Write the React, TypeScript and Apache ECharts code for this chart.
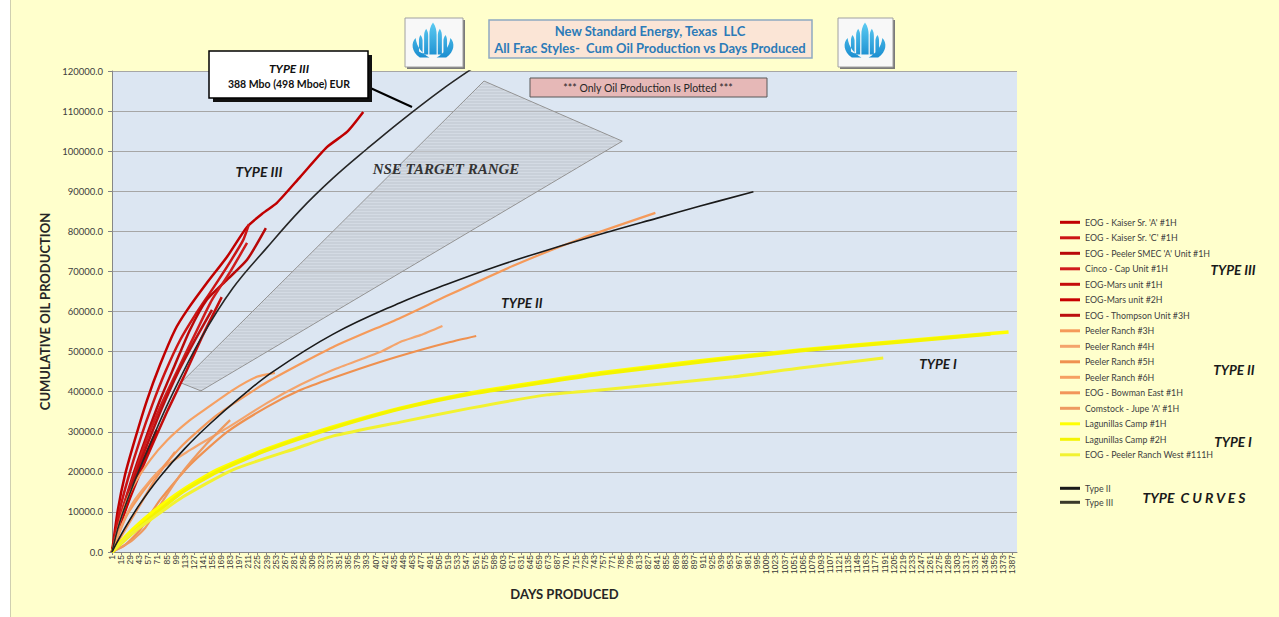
import React, { useEffect, useRef } from "react";
import * as echarts from "echarts";

// ---------- categories / ticks ----------
const DAY_COUNT = 1395;
const DAYS: string[] = Array.from({ length: DAY_COUNT }, (_, i) => String(i + 1));

// ---------- Type III wells (red) ----------
const KAISER_A_DAYS = [1, 10, 21, 36, 55, 75, 98, 117, 147, 178, 209, 234, 255, 291, 332, 363, 388];
const KAISER_A_VALS = [0, 10500, 19200, 27900, 37900, 46700, 55400, 60400, 67100, 73600, 81100, 84600, 87100, 93600, 101000, 104800, 109800];
const KAISER_C_DAYS = [1, 13, 26, 44, 63, 83, 106, 129, 155, 183, 203, 212];
const KAISER_C_VALS = [0, 10500, 18500, 27900, 36700, 44900, 52900, 59100, 65400, 72400, 77800, 81800];
const SMEC_DAYS = [1, 15, 32, 52, 75, 98, 121, 147, 178, 209, 238];
const SMEC_VALS = [0, 9200, 18500, 27900, 37900, 46700, 55400, 62900, 67900, 72900, 80800];
const CINCO_DAYS = [1, 16, 35, 56, 80, 106, 132, 155, 183, 209];
const CINCO_VALS = [0, 10000, 19200, 28700, 37900, 46700, 55400, 62900, 69900, 77100];
const MARS1_DAYS = [1, 19, 40, 63, 87, 113, 141, 170];
const MARS1_VALS = [0, 9200, 18000, 26700, 35400, 44200, 54100, 63600];
const MARS2_DAYS = [1, 13, 29, 44, 60, 70];
const MARS2_VALS = [0, 6700, 14200, 21000, 26700, 30400];
const THOMPSON_DAYS = [1, 15, 33, 55, 78, 103, 129, 155];
const THOMPSON_VALS = [0, 8500, 17500, 26700, 35900, 44900, 52900, 60400];

// ---------- Type II wells (orange) ----------
const PR3_DAYS = [1, 24, 60, 110, 163, 240, 341, 445, 517, 619, 722, 838];
const PR3_VALS = [0, 9200, 17500, 26700, 34200, 42400, 51100, 58400, 63900, 71400, 78100, 84600];
const PR4_DAYS = [1, 16, 36, 75, 121, 178, 240, 291, 341, 414, 445, 476, 510];
const PR4_VALS = [0, 6700, 13000, 20500, 25400, 30900, 37200, 41700, 45400, 49900, 52400, 54100, 56400];
const PR5_DAYS = [1, 21, 44, 75, 121, 178, 240, 291, 341, 414, 476, 522, 562];
const PR5_VALS = [0, 1700, 5500, 13000, 21700, 29900, 36200, 40400, 43400, 47400, 50400, 52400, 53900];
const PR6_DAYS = [1, 16, 33, 60, 86, 121, 147, 187, 224, 252];
const PR6_VALS = [0, 9200, 16200, 23000, 27900, 32900, 35900, 40400, 43700, 44700];
const BOWMAN_DAYS = [1, 21, 44, 67, 98];
const BOWMAN_VALS = [0, 5500, 11700, 18000, 25000];
const COMSTOCK_DAYS = [1, 29, 52, 75, 106, 145, 183];
const COMSTOCK_VALS = [0, 2500, 6000, 11700, 19200, 26700, 32900];

// ---------- Type I wells (yellow) ----------
const LAG1_DAYS = [1, 24, 60, 110, 163, 240, 341, 445, 553, 671, 753, 907, 1061, 1215, 1382];
const LAG1_VALS = [0, 4200, 9500, 15500, 20500, 25700, 31200, 35900, 39700, 42700, 44700, 47700, 50400, 52600, 54900];
const LAG2_DAYS = [1, 24, 60, 110, 163, 240, 341, 445, 553, 671, 753, 907, 1061, 1215, 1354];
const LAG2_VALS = [0, 3500, 8500, 15000, 20000, 25400, 30900, 35700, 39400, 42400, 44400, 47400, 50200, 52400, 54400];
const PRW_DAYS = [1, 24, 60, 110, 187, 291, 341, 445, 553, 671, 753, 958, 1061, 1189];
const PRW_VALS = [0, 3700, 8000, 13700, 20500, 26200, 28900, 32400, 35900, 39200, 40400, 43700, 45900, 48400];

// ---------- Type curves ----------
const TYPE2_DAYS = [1, 21, 44, 75, 113, 152, 198, 249, 341, 445, 517, 594, 671, 773, 841, 907, 989];
const TYPE2_VALS = [0, 6000, 12000, 18800, 25800, 32000, 38500, 45000, 54300, 62200, 66800, 71300, 75300, 80200, 83300, 86300, 89900];
const TYPE3_DAYS = [1, 13, 33, 60, 90, 137, 187, 240, 291, 341, 394, 445, 506, 553, 630];
const TYPE3_VALS = [0, 7500, 16500, 27000, 38000, 53000, 65800, 76000, 85300, 93200, 100600, 107400, 115000, 120300, 128500];

// ---------- NSE target range polygon ----------
const NSE_DAYS = [107, 574, 787, 138];
const NSE_VALS = [42200, 117500, 102500, 40200];

const WELL_NAMES = [
  "EOG - Kaiser Sr. 'A' #1H",
  "EOG - Kaiser Sr. 'C' #1H",
  "EOG - Peeler SMEC 'A' Unit #1H",
  "Cinco - Cap Unit #1H",
  "EOG-Mars unit #1H",
  "EOG-Mars unit #2H",
  "EOG - Thompson Unit #3H",
  "Peeler Ranch #3H",
  "Peeler Ranch #4H",
  "Peeler Ranch #5H",
  "Peeler Ranch #6H",
  "EOG - Bowman East #1H",
  "Comstock - Jupe 'A' #1H",
  "Lagunillas Camp #1H",
  "Lagunillas Camp #2H",
  "EOG - Peeler Ranch West #111H",
];
const TYPE_NAMES = ["Type II", "Type III"];

const pairs = (d: number[], v: number[]) => d.map((day, i) => [day - 1, v[i]]);

const LOGO_D =
  "M20 3 C22.5 7 23 11 23 15 L23 34 L17 34 L17 15 C17 11 17.5 7 20 3 Z " +
  "M14.3 9 C15.8 11.5 16 14 16 16 L16 34 L12.6 34 L12.6 16 C12.6 14 12.8 11.5 14.3 9 Z " +
  "M25.7 9 C27.2 11.5 27.4 14 27.4 16 L27.4 34 L24 34 L24 16 C24 14 24.2 11.5 25.7 9 Z " +
  "M9.6 15 C10.8 17 11.3 19 11.3 20.5 L11.3 33 L8.3 31 L8.3 20.5 C8.3 19 8.5 17 9.6 15 Z " +
  "M30.4 15 C31.5 17 31.7 19 31.7 20.5 L31.7 31 L28.7 33 L28.7 20.5 C28.7 19 29.2 17 30.4 15 Z " +
  "M5.5 18 C1.5 23 2 31 9 37 L17 37 C11 33 6.5 27 5.5 18 Z " +
  "M34.5 18 C38.5 23 38 31 31 37 L23 37 C29 33 33.5 27 34.5 18 Z";

let logoRegistered = false;
function ensureLogo() {
  if (logoRegistered) return;
  echarts.graphic.registerShape("nselogo", echarts.graphic.extendPath(LOGO_D, {}) as any);
  logoRegistered = true;
}

export default function App() {
  const ref = useRef<HTMLDivElement>(null);

  useEffect(() => {
    if (!ref.current) return;
    ensureLogo();
    const chart = echarts.init(ref.current, undefined, { renderer: "svg" });

    const wellData = [
      pairs(KAISER_A_DAYS, KAISER_A_VALS),
      pairs(KAISER_C_DAYS, KAISER_C_VALS),
      pairs(SMEC_DAYS, SMEC_VALS),
      pairs(CINCO_DAYS, CINCO_VALS),
      pairs(MARS1_DAYS, MARS1_VALS),
      pairs(MARS2_DAYS, MARS2_VALS),
      pairs(THOMPSON_DAYS, THOMPSON_VALS),
      pairs(PR3_DAYS, PR3_VALS),
      pairs(PR4_DAYS, PR4_VALS),
      pairs(PR5_DAYS, PR5_VALS),
      pairs(PR6_DAYS, PR6_VALS),
      pairs(BOWMAN_DAYS, BOWMAN_VALS),
      pairs(COMSTOCK_DAYS, COMSTOCK_VALS),
      pairs(LAG1_DAYS, LAG1_VALS),
      pairs(LAG2_DAYS, LAG2_VALS),
      pairs(PRW_DAYS, PRW_VALS),
    ];
    const colors = [
      "#C00000", "#CC1414", "#B80808", "#D01C1C", "#C40C0C", "#C80000", "#BC1010",
      "#F59A5A", "#F4A46C", "#EF9150", "#F6A062", "#F2955A", "#EE9A60",
      "#FFFF00", "#F4F400", "#F2F230",
    ];
    const widths = [2.5, 2.5, 2.5, 2.5, 2.5, 3, 2.5, 2.2, 2.2, 2.2, 2.2, 2.2, 2.2, 3.5, 3.5, 3];

    const wellSeries = WELL_NAMES.map((name, i) => ({
      name,
      type: "line",
      data: wellData[i],
      showSymbol: false,
      symbol: "none",
      smooth: 0.2,
      z: 3,
      lineStyle: { color: colors[i], width: widths[i] },
      itemStyle: { color: colors[i] },
    }));

    const typeSeries = [
      {
        name: "Type II",
        type: "line",
        data: pairs(TYPE2_DAYS, TYPE2_VALS),
        symbol: "none",
        smooth: 0.4,
        z: 4,
        lineStyle: { color: "#1A1A1A", width: 1.6 },
        itemStyle: { color: "#1A1A1A" },
      },
      {
        name: "Type III",
        type: "line",
        data: pairs(TYPE3_DAYS, TYPE3_VALS),
        symbol: "none",
        smooth: 0.4,
        z: 4,
        lineStyle: { color: "#262626", width: 1.6 },
        itemStyle: { color: "#3A3A2A" },
      },
    ];

    const nseSeries = {
      name: "NSE TARGET RANGE",
      type: "custom",
      z: 1,
      data: [0],
      silent: true,
      renderItem: (_params: any, api: any) => {
        const pts = NSE_DAYS.map((d, i) => api.coord([d - 1, NSE_VALS[i]]));
        const ys = pts.map((p: number[]) => p[1]);
        const minY = Math.min(...ys);
        const maxY = Math.max(...ys);
        const hatch: any[] = [];
        for (let y = Math.ceil(minY) + 2; y < maxY; y += 3) {
          const xs: number[] = [];
          for (let i = 0; i < pts.length; i++) {
            const a = pts[i];
            const b = pts[(i + 1) % pts.length];
            if ((a[1] <= y && b[1] > y) || (b[1] <= y && a[1] > y)) {
              xs.push(a[0] + ((y - a[1]) * (b[0] - a[0])) / (b[1] - a[1]));
            }
          }
          if (xs.length >= 2) {
            hatch.push({
              type: "line",
              shape: { x1: Math.min(...xs) + 1, y1: y, x2: Math.max(...xs) - 1, y2: y },
              style: { stroke: "rgba(150,156,168,0.35)", lineWidth: 1 },
            });
          }
        }
        return {
          type: "group",
          children: [
            { type: "polygon", shape: { points: pts }, style: { fill: "rgba(205,209,217,0.55)", stroke: "none" } },
            ...hatch,
            { type: "polygon", shape: { points: pts }, style: { fill: "none", stroke: "#939393", lineWidth: 1 } },
          ],
        };
      },
    };

    const F = "Lato, 'Open Sans', sans-serif";
    const grad = {
      type: "linear",
      x: 0, y: 0, x2: 0, y2: 1,
      colorStops: [
        { offset: 0, color: "#5CCBF2" },
        { offset: 1, color: "#1B8ED0" },
      ],
    };

    const graphic: any[] = [
      { type: "rect", shape: { x: 0, y: 0, width: 10, height: 617 }, style: { fill: "#FFFFFF" }, z: 0, silent: true },
      { type: "line", shape: { x1: 10.5, y1: 0, x2: 10.5, y2: 617 }, style: { stroke: "#CFCFB0", lineWidth: 1 }, z: 0 },
      // title box
      { type: "rect", shape: { x: 489, y: 20, width: 323, height: 38 }, style: { fill: "#FBE5D6", stroke: "#8EA9C1", lineWidth: 1.5 }, z: 100 },
      {
        type: "text", z: 101,
        style: {
          text: "New Standard Energy, Texas  LLC\nAll Frac Styles-  Cum Oil Production vs Days Produced",
          x: 650, y: 39, align: "center", verticalAlign: "middle",
          fontSize: 13, fontWeight: "bold", fontFamily: F, fill: "#2C7BB8", lineHeight: 17,
        },
      },
      // logo boxes
      { type: "rect", shape: { x: 407, y: 20, width: 58, height: 49 }, style: { fill: "#7A7A7A" }, z: 100 },
      { type: "rect", shape: { x: 405, y: 18, width: 58, height: 49 }, style: { fill: "#F8F8F8", stroke: "#A0A0A0", lineWidth: 1 }, z: 100 },
      { type: "nselogo", x: 409, y: 19.5, scaleX: 1.2, scaleY: 1.03, style: { fill: grad }, z: 101 },
      { type: "rect", shape: { x: 840, y: 20, width: 55, height: 49 }, style: { fill: "#7A7A7A" }, z: 100 },
      { type: "rect", shape: { x: 838, y: 18, width: 55, height: 49 }, style: { fill: "#F8F8F8", stroke: "#A0A0A0", lineWidth: 1 }, z: 100 },
      { type: "nselogo", x: 841, y: 19.5, scaleX: 1.2, scaleY: 1.03, style: { fill: grad }, z: 101 },
      // callout
      { type: "line", shape: { x1: 366, y1: 86, x2: 412, y2: 107 }, style: { stroke: "#000", lineWidth: 2 }, z: 100 },
      { type: "rect", shape: { x: 213, y: 55, width: 159, height: 47 }, style: { fill: "#111" }, z: 100 },
      { type: "rect", shape: { x: 209, y: 51, width: 159, height: 47 }, style: { fill: "#FFFFFF", stroke: "#000", lineWidth: 1.5 }, z: 101 },
      {
        type: "text", z: 102,
        style: { text: "TYPE III", x: 289, y: 68, align: "center", verticalAlign: "middle", fontSize: 12, fontWeight: "bold", fontStyle: "italic", fontFamily: F, fill: "#111" },
      },
      {
        type: "text", z: 102,
        style: { text: "388 Mbo (498 Mboe) EUR", x: 289, y: 84, align: "center", verticalAlign: "middle", fontSize: 10.5, fontWeight: "bold", fontFamily: F, fill: "#111" },
      },
      // pink note
      { type: "rect", shape: { x: 530, y: 78, width: 237, height: 19 }, style: { fill: "#E6B8B7", stroke: "#595959", lineWidth: 1 }, z: 100 },
      {
        type: "text", z: 101,
        style: { text: "*** Only Oil Production Is Plotted ***", x: 648, y: 88, align: "center", verticalAlign: "middle", fontSize: 10.5, fontFamily: F, fill: "#262626" },
      },
      // in-plot labels
      {
        type: "text", z: 100,
        style: { text: "TYPE III", x: 259, y: 171, align: "center", verticalAlign: "middle", fontSize: 14, fontWeight: "bold", fontStyle: "italic", fontFamily: F, fill: "#1A1A1A" },
      },
      {
        type: "text", z: 100,
        style: { text: "NSE TARGET RANGE", x: 446, y: 169, align: "center", verticalAlign: "middle", fontSize: 15, fontWeight: "bold", fontStyle: "italic", fontFamily: "'Liberation Serif', serif", fill: "#333" },
      },
      {
        type: "text", z: 100,
        style: { text: "TYPE II", x: 522, y: 303, align: "center", verticalAlign: "middle", fontSize: 13.5, fontWeight: "bold", fontStyle: "italic", fontFamily: F, fill: "#1A1A1A" },
      },
      {
        type: "text", z: 100,
        style: { text: "TYPE I", x: 938, y: 364, align: "center", verticalAlign: "middle", fontSize: 13.5, fontWeight: "bold", fontStyle: "italic", fontFamily: F, fill: "#1A1A1A" },
      },
      // right labels
      {
        type: "text", z: 100,
        style: { text: "TYPE III", x: 1233, y: 270, align: "center", verticalAlign: "middle", fontSize: 13.5, fontWeight: "bold", fontStyle: "italic", fontFamily: F, fill: "#1A1A1A" },
      },
      {
        type: "text", z: 100,
        style: { text: "TYPE II", x: 1234, y: 370, align: "center", verticalAlign: "middle", fontSize: 13.5, fontWeight: "bold", fontStyle: "italic", fontFamily: F, fill: "#1A1A1A" },
      },
      {
        type: "text", z: 100,
        style: { text: "TYPE I", x: 1233, y: 442, align: "center", verticalAlign: "middle", fontSize: 13.5, fontWeight: "bold", fontStyle: "italic", fontFamily: F, fill: "#1A1A1A" },
      },
      {
        type: "text", z: 100,
        style: { text: "TYPE  C U R V E S", x: 1194, y: 497, align: "center", verticalAlign: "middle", fontSize: 14, fontWeight: "bold", fontStyle: "italic", fontFamily: F, fill: "#1A1A1A" },
      },
    ];

    const legendCommon = {
      orient: "vertical",
      icon: "rect",
      itemWidth: 20,
      itemHeight: 3,
      padding: 0,
      selectedMode: false,
      textStyle: { fontSize: 8.8, lineHeight: 10, color: "#404040", fontFamily: F },
    };

    chart.setOption({
      animation: false,
      backgroundColor: "#FFFFCC",
      grid: {
        left: 112, right: 262, top: 71, bottom: 65,
        show: true, backgroundColor: "#DCE6F2", borderWidth: 0,
      },
      legend: [
        { ...legendCommon, left: 1060, top: 217.3, itemGap: 5.5, data: WELL_NAMES },
        { ...legendCommon, left: 1060, top: 483.3, itemGap: 4, data: TYPE_NAMES },
      ],
      xAxis: {
        type: "category",
        data: DAYS,
        boundaryGap: false,
        name: "DAYS PRODUCED",
        nameLocation: "middle",
        nameGap: 35,
        nameTextStyle: { fontSize: 13, fontWeight: "bold", color: "#262626", fontFamily: F },
        axisLine: { show: true, lineStyle: { color: "#868686" } },
        axisTick: { show: true, interval: 13, length: 3, lineStyle: { color: "#868686" } },
        axisLabel: { interval: 13, rotate: 90, fontSize: 8.5, margin: 3, color: "#3A3A3A", fontFamily: "'Liberation Sans', sans-serif" },
        splitLine: { show: false },
      },
      yAxis: {
        type: "value",
        min: 0,
        max: 120000,
        interval: 10000,
        name: "CUMULATIVE OIL PRODUCTION",
        nameLocation: "middle",
        nameGap: 51,
        nameTextStyle: { fontSize: 13, fontWeight: "bold", color: "#262626", fontFamily: F },
        axisLine: { show: true, lineStyle: { color: "#868686" } },
        axisTick: { show: true, length: 4, lineStyle: { color: "#868686" } },
        axisLabel: { formatter: (v: number) => v.toFixed(1), fontSize: 9.5, margin: 9, color: "#404040", fontFamily: F },
        splitLine: { show: true, lineStyle: { color: "#A6A6A6", width: 1 } },
      },
      series: [nseSeries, ...wellSeries, ...typeSeries],
      graphic,
    });

    return () => chart.dispose();
  }, []);

  return <div ref={ref} style={{ position: "fixed", left: 0, top: 0, width: 1279, height: 617 }} />;
}
